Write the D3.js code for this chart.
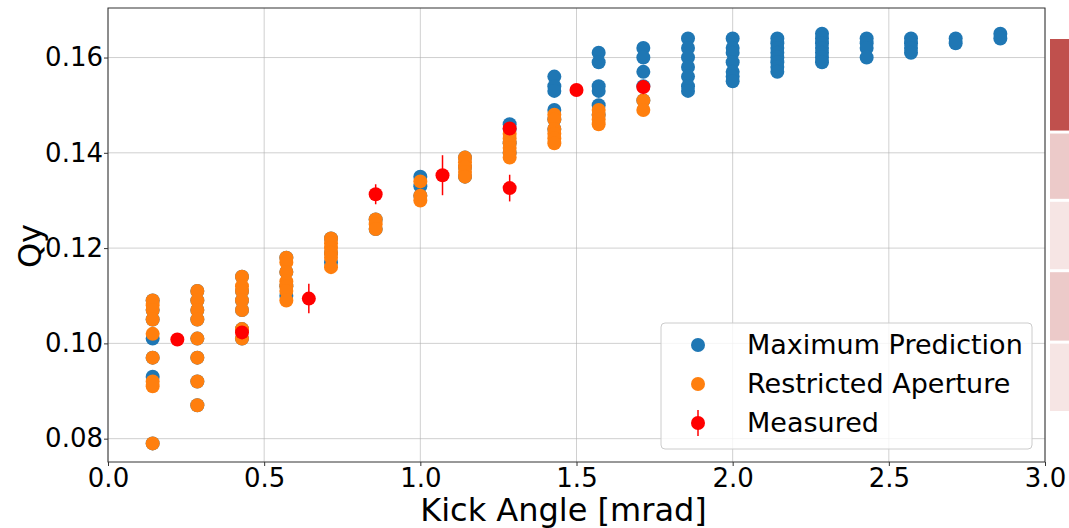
<!DOCTYPE html>
<meta charset="utf-8">
<head>
	<script src="https://cdn.jsdelivr.net/npm/d3@7"></script>
	<style>
		body { margin: 0; background: #fff; }
		text { font-family: "DejaVu Sans", sans-serif; fill: #000; }
		.tick text { font-size: 26px; }
		.axis-label { font-size: 32px; }
		.legend text { font-size: 27px; }
	</style>
</head>
<body>
	<svg id="svg"></svg>
</body>
<script>
	// kick angles (mrad) of the simulated columns
	var kickAngles = [0.143, 0.286, 0.429, 0.571, 0.714, 0.857, 1.0, 1.143, 1.286, 1.429,
		1.571, 1.714, 1.857, 2.0, 2.143, 2.286, 2.429, 2.571, 2.714, 2.857];

	// Qy values per kick angle
	var maxPrediction = [
		[0.109, 0.107, 0.105, 0.101, 0.097, 0.093, 0.079],
		[0.111, 0.109, 0.107, 0.105, 0.101, 0.097, 0.092, 0.087],
		[0.114, 0.111, 0.109, 0.107, 0.103, 0.101],
		[0.118, 0.115, 0.112, 0.110],
		[0.122, 0.119, 0.117],
		[0.126, 0.124],
		[0.135, 0.133, 0.131],
		[0.139, 0.137, 0.135],
		[0.146, 0.145, 0.142, 0.140],
		[0.156, 0.154, 0.153, 0.149, 0.147, 0.145],
		[0.161, 0.159, 0.154, 0.153, 0.150, 0.148],
		[0.162, 0.160, 0.157, 0.154, 0.151],
		[0.164, 0.162, 0.160, 0.158, 0.156, 0.154, 0.153],
		[0.164, 0.162, 0.161, 0.159, 0.157, 0.156, 0.155],
		[0.164, 0.163, 0.162, 0.161, 0.160, 0.159, 0.158, 0.157],
		[0.165, 0.164, 0.163, 0.162, 0.161, 0.160, 0.159],
		[0.164, 0.163, 0.162, 0.160],
		[0.164, 0.163, 0.162, 0.161],
		[0.164, 0.163],
		[0.165, 0.164]
	];

	var restricted = [
		[0.109, 0.108, 0.107, 0.105, 0.102, 0.097, 0.092, 0.091, 0.079],
		[0.111, 0.109, 0.107, 0.105, 0.101, 0.097, 0.092, 0.087],
		[0.114, 0.112, 0.111, 0.109, 0.107, 0.103, 0.101],
		[0.118, 0.117, 0.115, 0.113, 0.112, 0.111, 0.109],
		[0.122, 0.121, 0.120, 0.119, 0.118, 0.116],
		[0.126, 0.125, 0.124],
		[0.134, 0.131, 0.130],
		[0.139, 0.138, 0.137, 0.136, 0.135],
		[0.144, 0.143, 0.142, 0.141, 0.140, 0.139],
		[0.148, 0.147, 0.145, 0.144, 0.143, 0.142],
		[0.149, 0.148, 0.147, 0.146],
		[0.151, 0.149]
	];

	var measuredX = [0.222, 0.429, 0.643, 0.857, 1.071, 1.286, 1.286, 1.5, 1.714];
	var measuredY = [0.1008, 0.1023, 0.1094, 0.1313, 0.1353, 0.1451, 0.1326, 0.1532, 0.1538];
	var measuredErr = [0.0005, 0.0005, 0.0031, 0.0021, 0.0042, 0.0008, 0.0028, 0.0006, 0.0015];

	var xTicks = [0.0, 0.5, 1.0, 1.5, 2.0, 2.5, 3.0];
	var yTicks = [0.08, 0.10, 0.12, 0.14, 0.16];

	var legendLabels = ['Maximum Prediction', 'Restricted Aperture', 'Measured'];

	// partly visible bars of the neighbouring panel (height units, opacity)
	var sideBars = [0.9, 0.65, 0.67, 0.68, 0.67];
	var sideShade = [1.0, 0.3, 0.15, 0.3, 0.15];

	var width = 1069, height = 528;
	var margin = { left: 108, right: 24, top: 8, bottom: 66 };
	var plotW = width - margin.left - margin.right;
	var plotH = height - margin.top - margin.bottom;

	var blue = '#1f77b4', orange = '#ff7f0e', red = '#ff0000';

	var svg = d3.select('#svg')
		.attr('width', width)
		.attr('height', height);

	var g = svg.append('g')
		.attr('transform', 'translate(' + margin.left + ',' + margin.top + ')');

	var x = d3.scaleLinear().domain([0, 3.0]).range([0, plotW]);
	var y = d3.scaleLinear().domain([0.0751, 0.1704]).range([plotH, 0]);

	// grid
	g.append('g').selectAll('line').data(xTicks).enter().append('line')
		.attr('x1', d => x(d)).attr('x2', d => x(d))
		.attr('y1', 0).attr('y2', plotH)
		.attr('stroke', '#b0b0b0').attr('stroke-opacity', 0.6).attr('stroke-width', 1);
	g.append('g').selectAll('line').data(yTicks).enter().append('line')
		.attr('x1', 0).attr('x2', plotW)
		.attr('y1', d => y(d)).attr('y2', d => y(d))
		.attr('stroke', '#b0b0b0').attr('stroke-opacity', 0.6).attr('stroke-width', 1);

	// flatten the column data
	function flatten(cols) {
		var pts = [];
		cols.forEach((col, i) => col.forEach(v => pts.push({ x: kickAngles[i], y: v })));
		return pts;
	}

	var r = 7;
	g.append('g').selectAll('circle').data(flatten(maxPrediction)).enter().append('circle')
		.attr('cx', d => x(d.x)).attr('cy', d => y(d.y)).attr('r', r)
		.attr('fill', blue);

	g.append('g').selectAll('circle').data(flatten(restricted)).enter().append('circle')
		.attr('cx', d => x(d.x)).attr('cy', d => y(d.y)).attr('r', r)
		.attr('fill', orange);

	// measured with error bars
	var meas = measuredX.map((v, i) => ({ x: v, y: measuredY[i], e: measuredErr[i] }));
	var mg = g.append('g');
	mg.selectAll('line').data(meas).enter().append('line')
		.attr('x1', d => x(d.x)).attr('x2', d => x(d.x))
		.attr('y1', d => y(d.y - d.e)).attr('y2', d => y(d.y + d.e))
		.attr('stroke', red).attr('stroke-width', 1.5);
	mg.selectAll('circle').data(meas).enter().append('circle')
		.attr('cx', d => x(d.x)).attr('cy', d => y(d.y)).attr('r', r)
		.attr('fill', red);

	// axes
	var xAxis = g.append('g')
		.attr('transform', 'translate(0,' + plotH + ')')
		.call(d3.axisBottom(x).tickValues(xTicks).tickFormat(d3.format('.1f')).tickSize(4).tickPadding(3));
	var yAxis = g.append('g')
		.call(d3.axisLeft(y).tickValues(yTicks).tickFormat(d3.format('.2f')).tickSize(4).tickPadding(1));
	[xAxis, yAxis].forEach(a => {
		a.select('.domain').remove();
		a.selectAll('.tick line').attr('stroke', '#333');
	});

	// frame
	g.append('rect')
		.attr('width', plotW).attr('height', plotH)
		.attr('fill', 'none').attr('stroke', '#333').attr('stroke-width', 1);

	svg.append('text')
		.attr('class', 'axis-label')
		.attr('x', margin.left + plotW / 2 - 13)
		.attr('y', height - 7)
		.attr('text-anchor', 'middle')
		.text('Kick Angle [mrad]');

	svg.append('text')
		.attr('class', 'axis-label')
		.attr('transform', 'translate(41,' + (margin.top + plotH / 2 + 11) + ') rotate(-90)')
		.attr('text-anchor', 'middle')
		.text('Qy');

	// legend
	var lg = g.append('g').attr('class', 'legend')
		.attr('transform', 'translate(' + (plotW - 384) + ',' + (plotH - 139) + ')');
	lg.append('rect')
		.attr('width', 371).attr('height', 126).attr('rx', 4)
		.attr('fill', '#fff').attr('fill-opacity', 0.8)
		.attr('stroke', '#cccccc');
	var items = lg.selectAll('.item').data(legendLabels).enter().append('g')
		.attr('class', 'item')
		.attr('transform', (d, i) => 'translate(0,' + (22 + i * 39) + ')');
	items.append('circle')
		.attr('cx', 37).attr('cy', 0).attr('r', r)
		.attr('fill', (d, i) => [blue, orange, red][i]);
	items.filter((d, i) => i === 2).append('line')
		.attr('x1', 37).attr('x2', 37).attr('y1', -13).attr('y2', 13)
		.attr('stroke', red).attr('stroke-width', 1.5);
	items.append('text')
		.attr('x', 86).attr('y', 0).attr('dy', '0.35em')
		.text(d => d);

	// side panel bars (cut off at the right edge)
	var sideScale = d3.scaleLinear().domain([0, d3.sum(sideBars)]).range([0, 375]);
	var sb = svg.append('g').attr('transform', 'translate(1050,39)');
	var acc = 0;
	var segs = sideBars.map((v, i) => { var s = { y0: acc, v: v, a: sideShade[i] }; acc += v; return s; });
	sb.selectAll('rect').data(segs).enter().append('rect')
		.attr('x', 0).attr('width', 19)
		.attr('y', d => sideScale(d.y0))
		.attr('height', d => sideScale(d.v) - 3)
		.attr('fill', '#c0504d')
		.attr('fill-opacity', d => d.a);
</script>
